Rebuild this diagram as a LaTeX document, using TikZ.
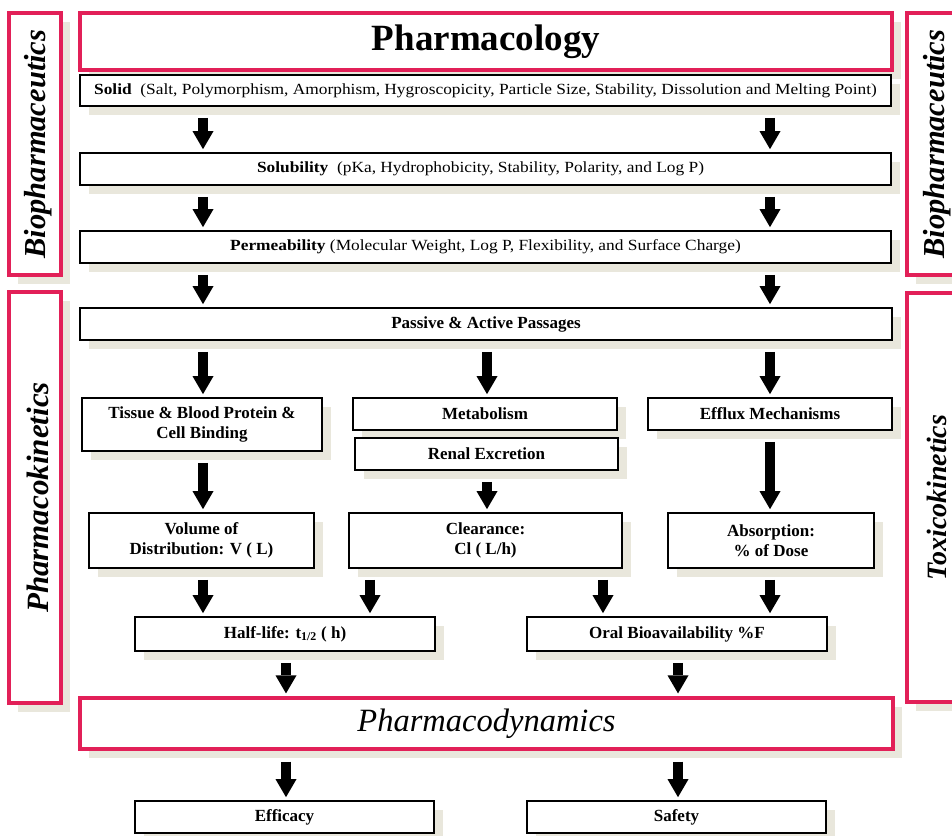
\documentclass[tikz,border=0pt]{standalone}
\usepackage{fontspec}
\setmainfont{Liberation Serif}
\newfontfamily\widefont[FakeStretch=1.12]{Liberation Serif}
\usetikzlibrary{arrows.meta,shadows}
\definecolor{framered}{RGB}{226,32,88}
\definecolor{shadowcol}{RGB}{233,231,220}

\tikzset{
  boxshadow/.style={drop shadow={shadow xshift=9pt, shadow yshift=-9pt, fill=shadowcol, opacity=1}},
  redbox/.style={draw=framered, line width=3.2pt, fill=white, boxshadow, inner sep=0pt},
  blackbox/.style={draw=black, line width=1.7pt, fill=white, boxshadow, inner sep=0pt,
    align=center, font=\fontsize{17}{20}\selectfont\bfseries},
  propbox/.style={blackbox, font=\widefont\fontsize{15.5}{18}\selectfont},
  sidelabel/.style={rotate=90, inner sep=0pt, font=\fontsize{30.5}{34}\selectfont\bfseries\itshape},
  flow/.style={line width=9.5pt,
    -{Triangle[width=21pt,length=18pt,line width=0pt]},
    shorten <=11pt, shorten >=3pt},
}

\begin{document}
\begin{tikzpicture}[x=1pt,y=-1pt]
\useasboundingbox (0,0) rectangle (952,835);
\clip (0,0) rectangle (952,835);
\fill[white] (0,0) rectangle (952,835);

% side frames
\node[redbox, minimum width=52pt, minimum height=262pt] (bioL) at (35,144) {};
\node[redbox, minimum width=52pt, minimum height=411pt] (pkL) at (35,497.5) {};
\node[redbox, minimum width=54pt, minimum height=262pt] (bioR) at (934,144) {};
\node[redbox, minimum width=54pt, minimum height=409pt] (toxR) at (934,497.5) {};
\node[sidelabel] (bioLtext) at ([xshift=3pt]bioL.center) {Biopharmaceutics};
\node[sidelabel, font=\fontsize{31}{34}\selectfont\bfseries\itshape] (pkLtext) at ([xshift=3pt]pkL.center) {Pharmacokinetics};
\node[sidelabel] (bioRtext) at ([xshift=3pt]bioR.center) {Biopharmaceutics};
\node[sidelabel, font=\fontsize{28}{32}\selectfont\bfseries\itshape] (toxRtext) at ([xshift=3pt]toxR.center) {Toxicokinetics};

% title and effect frames
\node[redbox, minimum width=812pt, minimum height=57pt,
      font=\fontsize{37}{40}\selectfont\bfseries] (pharm) at (486,41.5) {Pharmacology};
\node[redbox, minimum width=813pt, minimum height=51pt,
      font=\fontsize{32.5}{36}\selectfont\itshape] (pd) at (486.5,723.5) {Pharmacodynamics};

% biopharmaceutical properties
\node[propbox, minimum width=811pt, minimum height=31pt] (solid) at (485.5,90.5)
  {\textbf{Solid}\ \ (Salt, Polymorphism, Amorphism, Hygroscopicity, Particle Size, Stability, Dissolution and Melting Point)};
\node[propbox, minimum width=811pt, minimum height=32pt] (solub) at (485.5,169)
  {\textbf{Solubility}\ \ (pKa, Hydrophobicity, Stability, Polarity, and Log P)\hspace*{10pt}};
\node[propbox, minimum width=811pt, minimum height=32pt] (perm) at (485.5,247)
  {\textbf{Permeability} (Molecular Weight, Log P, Flexibility, and Surface Charge)};

% pharmacokinetic steps
\node[blackbox, minimum width=812pt, minimum height=32pt] (passive) at (486,324) {Passive \& Active Passages};
\node[blackbox, minimum width=240pt, minimum height=53pt] (tissue) at (202,424.5) {Tissue \& Blood Protein \&\\Cell Binding};
\node[blackbox, minimum width=264pt, minimum height=32pt] (metab) at (485,414) {Metabolism};
\node[blackbox, minimum width=263pt, minimum height=32pt] (renal) at (486.5,454) {Renal Excretion};
\node[blackbox, minimum width=244pt, minimum height=32pt] (efflux) at (770,414) {Efflux Mechanisms};
\node[blackbox, minimum width=225pt, minimum height=55pt] (volume) at (201.5,540.5) {Volume of\\Distribution: V ( L)};
\node[blackbox, minimum width=273pt, minimum height=55pt] (clear) at (485.5,540.5) {Clearance:\\Cl ( L/h)};
\node[blackbox, minimum width=206pt, minimum height=55pt] (absorb) at (771,540.5) {Absorption:\\\% of Dose};
\node[blackbox, minimum width=300pt, minimum height=34pt] (half) at (285,634) {Half-life: t\textsubscript{1/2} ( h)};
\node[blackbox, minimum width=300pt, minimum height=34pt] (oral) at (677,634) {Oral Bioavailability \%F};

% outcomes
\node[blackbox, minimum width=299pt, minimum height=32pt] (eff) at (284.5,817) {Efficacy};
\node[blackbox, minimum width=299pt, minimum height=32pt] (safe) at (676.5,817) {Safety};

% arrow columns
\coordinate (cL) at (203,0);
\coordinate (cM) at (487,0);
\coordinate (cR) at (770,0);
\coordinate (cH) at (370,0);
\coordinate (cO) at (603,0);
\coordinate (cB1) at (286,0);
\coordinate (cB2) at (678,0);

\draw[flow] (solid.south -| cL) -- (solub.north -| cL);
\draw[flow] (solid.south -| cR) -- (solub.north -| cR);
\draw[flow] (solub.south -| cL) -- (perm.north -| cL);
\draw[flow] (solub.south -| cR) -- (perm.north -| cR);
\draw[flow] (perm.south -| cL) -- (passive.north -| cL);
\draw[flow] (perm.south -| cR) -- (passive.north -| cR);
\draw[flow] (passive.south -| cL) -- (tissue.north -| cL);
\draw[flow] (passive.south -| cM) -- (metab.north -| cM);
\draw[flow] (passive.south -| cR) -- (efflux.north -| cR);
\draw[flow] (tissue.south -| cL) -- (volume.north -| cL);
\draw[flow] (renal.south -| cM) -- (clear.north -| cM);
\draw[flow] (efflux.south -| cR) -- (absorb.north -| cR);
\draw[flow] (volume.south -| cL) -- (half.north -| cL);
\draw[flow] (clear.south -| cH) -- (half.north -| cH);
\draw[flow] (clear.south -| cO) -- (oral.north -| cO);
\draw[flow] (absorb.south -| cR) -- (oral.north -| cR);
\draw[flow] (half.south -| cB1) -- (pd.north -| cB1);
\draw[flow] (oral.south -| cB2) -- (pd.north -| cB2);
\draw[flow] (pd.south -| cB1) -- (eff.north -| cB1);
\draw[flow] (pd.south -| cB2) -- (safe.north -| cB2);
\end{tikzpicture}
\end{document}
